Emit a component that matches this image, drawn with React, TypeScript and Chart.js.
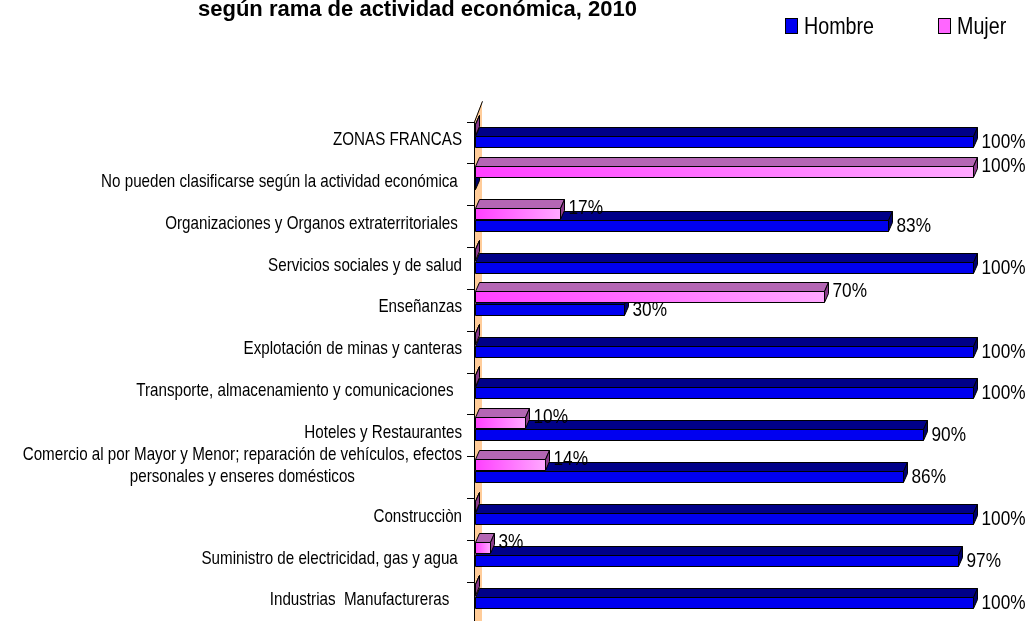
import React, { useEffect, useRef } from 'react';
import { Chart, registerables } from 'chart.js';

Chart.register(...registerables);

// ---------- data ----------
const categories: (string | string[])[] = [
  'ZONAS FRANCAS',
  'No pueden clasificarse según la actividad económica ',
  'Organizaciones y Organos extraterritoriales ',
  'Servicios sociales y de salud',
  'Enseñanzas',
  'Explotación de minas y canteras',
  'Transporte, almacenamiento y comunicaciones  ',
  'Hoteles y Restaurantes',
  ['Comercio al por Mayor y Menor; reparación de vehículos, efectos', 'personales y enseres domésticos'],
  'Construcciòn',
  'Suministro de electricidad, gas y agua ',
  'Industrias  Manufactureras   ',
];
const hombre = [100, 0, 83, 100, 30, 100, 100, 90, 86, 100, 97, 100];
const mujer = [0, 100, 17, 0, 70, 0, 0, 10, 14, 0, 3, 0];
const seriesNames = ['Hombre', 'Mujer'];
const titleText = 'según rama de actividad económica, 2010';

// ---------- style ----------
const FONT = "'Liberation Sans', Arial, sans-serif";
const SX = 0.82; // horizontal condensation (Arial Narrow look)
const W = 1036;
const H = 640;
const DX = 4; // 3D depth x
const DY = 9; // 3D depth y
const SHIFT = -7.4; // projection shift of bars inside a band

const COLORS = {
  hombre: { front: '#0000F0', top: '#000088', side: '#00006A' },
  mujer: { frontA: '#FF40FF', frontB: '#FFA8FF', top: '#B466B4', side: '#8A3A8A' },
};
const LABEL_DY = { hombre: 0, mujer: -6 };

function text(ctx: CanvasRenderingContext2D, s: string, x: number, y: number, align: CanvasTextAlign, sx = SX) {
  ctx.save();
  ctx.translate(x, y);
  ctx.scale(sx, 1);
  ctx.textAlign = align;
  ctx.fillText(s, 0, 0);
  ctx.restore();
}
function measure(ctx: CanvasRenderingContext2D, s: string) {
  return ctx.measureText(s).width * SX;
}

function drawBar3D(ctx: CanvasRenderingContext2D, x0: number, x1: number, yTop: number, h: number, kind: 'hombre' | 'mujer') {
  ctx.save();
  ctx.lineWidth = 1;
  ctx.strokeStyle = '#000';
  // top face
  ctx.beginPath();
  ctx.moveTo(x0, yTop);
  ctx.lineTo(x0 + DX, yTop - DY);
  ctx.lineTo(x1 + DX, yTop - DY);
  ctx.lineTo(x1, yTop);
  ctx.closePath();
  ctx.fillStyle = kind === 'hombre' ? COLORS.hombre.top : COLORS.mujer.top;
  ctx.fill();
  ctx.stroke();
  // side face (right end)
  ctx.beginPath();
  ctx.moveTo(x1, yTop);
  ctx.lineTo(x1 + DX, yTop - DY);
  ctx.lineTo(x1 + DX, yTop + h - DY);
  ctx.lineTo(x1, yTop + h);
  ctx.closePath();
  ctx.fillStyle = kind === 'hombre' ? COLORS.hombre.side : COLORS.mujer.side;
  ctx.fill();
  ctx.stroke();
  // front face
  if (kind === 'hombre') {
    ctx.fillStyle = COLORS.hombre.front;
  } else {
    const g = ctx.createLinearGradient(x0, 0, Math.max(x1, x0 + 1), 0);
    g.addColorStop(0, COLORS.mujer.frontA);
    g.addColorStop(1, COLORS.mujer.frontB);
    ctx.fillStyle = g;
  }
  ctx.beginPath();
  ctx.rect(x0, yTop, x1 - x0, h);
  ctx.fill();
  ctx.stroke();
  ctx.restore();
}

const plugin3D = {
  id: 'bars3d',
  beforeDatasetsDraw(chart: any) {
    const { ctx, chartArea } = chart;
    const xl = chartArea.left - 1;
    ctx.save();
    ctx.beginPath();
    ctx.moveTo(xl, chartArea.top);
    ctx.lineTo(xl + 2 * DX, chartArea.top - 2.3 * DY);
    ctx.lineTo(xl + 2 * DX, H);
    ctx.lineTo(xl, H);
    ctx.closePath();
    ctx.fillStyle = '#FFCC99';
    ctx.fill();
    ctx.beginPath();
    ctx.moveTo(xl + 0.5, H);
    ctx.lineTo(xl + 0.5, chartArea.top);
    ctx.lineTo(xl + 2 * DX + 0.5, chartArea.top - 2.3 * DY);
    ctx.strokeStyle = '#000';
    ctx.lineWidth = 1;
    ctx.stroke();
    ctx.restore();
  },
  afterDatasetsDraw(chart: any) {
    const { ctx } = chart;
    const kinds: ('mujer' | 'hombre')[] = ['mujer', 'hombre'];
    const order = [1, 0]; // Hombre drawn first, Mujer over it
    const labels: { x: number; y: number; t: string }[] = [];
    order.forEach((di) => {
      const meta = chart.getDatasetMeta(di);
      const values = chart.data.datasets[di].data as number[];
      meta.data.forEach((el: any, i: number) => {
        const p = el.getProps(['x', 'y', 'base', 'height'], true);
        const yTop = Math.round(p.y - p.height / 2 + SHIFT) + 0.5;
        const h = Math.round(p.height);
        const x0 = Math.round(p.base) + 0.5;
        const x1 = Math.round(p.x) + 0.5;
        drawBar3D(ctx, x0, x1, yTop, h, kinds[di]);
        if (values[i] > 0) {
          labels.push({ x: x1 + DX + 4, y: yTop + h / 2 + LABEL_DY[kinds[di]], t: values[i] + '%' });
        }
      });
    });
    ctx.save();
    ctx.font = `21px ${FONT}`;
    ctx.fillStyle = '#000';
    ctx.textBaseline = 'middle';
    labels.forEach((l) => text(ctx, l.t, l.x, l.y, 'left'));
    ctx.restore();
  },
  afterDraw(chart: any) {
    const { ctx, chartArea } = chart;
    const yScale = chart.scales.y;
    ctx.save();
    ctx.font = `18.5px ${FONT}`;
    ctx.fillStyle = '#000';
    ctx.textBaseline = 'middle';
    const xRight = chartArea.left - 13;
    categories.forEach((lab, i) => {
      const yc = yScale.getPixelForTick(i) - 3;
      if (Array.isArray(lab)) {
        const lh = 22;
        const n = lab.length;
        const widest = Math.max(...lab.map((s) => measure(ctx, s)));
        const blockC = yc - (n - 1) * lh * 0.4;
        lab.forEach((s, k) => {
          text(ctx, s, xRight - widest / 2, blockC + (k - (n - 1) / 2) * lh, 'center');
        });
      } else {
        text(ctx, lab, xRight, yc, 'right');
      }
    });
    // title (second line, partly cut at the top)
    ctx.font = `bold 22px ${FONT}`;
    ctx.textBaseline = 'alphabetic';
    text(ctx, titleText, 198, 15.5, 'left', 1);
    // legend
    const legend = [
      { name: seriesNames[0], box: 785, color: COLORS.hombre.front },
      { name: seriesNames[1], box: 938, color: '#FF66FF' },
    ];
    ctx.font = `24px ${FONT}`;
    legend.forEach((it) => {
      ctx.fillStyle = it.color;
      ctx.fillRect(it.box + 0.5, 18.5, 12, 15);
      ctx.strokeStyle = '#000';
      ctx.lineWidth = 1;
      ctx.strokeRect(it.box + 0.5, 18.5, 12, 15);
      ctx.fillStyle = '#000';
      text(ctx, it.name, it.box + 19, 33.5, 'left');
    });
    ctx.restore();
  },
};

export default function App() {
  const ref = useRef<HTMLCanvasElement>(null);
  useEffect(() => {
    const chart = new Chart(ref.current as HTMLCanvasElement, {
      type: 'bar',
      data: {
        labels: categories,
        datasets: [
          {
            label: seriesNames[1],
            data: mujer,
            backgroundColor: 'rgba(0,0,0,0)',
            borderWidth: 0,
            categoryPercentage: 0.59,
            barPercentage: 0.88,
          },
          {
            label: seriesNames[0],
            data: hombre,
            backgroundColor: 'rgba(0,0,0,0)',
            borderWidth: 0,
            categoryPercentage: 0.59,
            barPercentage: 0.88,
          },
        ],
      },
      options: {
        indexAxis: 'y',
        animation: false,
        responsive: false,
        maintainAspectRatio: false,
        layout: { padding: { top: 122, bottom: H - 629.6, left: 0, right: 63 } },
        plugins: {
          legend: { display: false },
          title: { display: false },
          tooltip: { enabled: false },
        },
        scales: {
          x: { display: false, min: 0, max: 100 },
          y: {
            offset: true,
            grid: { display: true, drawOnChartArea: false, drawTicks: true, tickLength: 8, color: '#000', offset: true },
            border: { display: false },
            ticks: { color: 'rgba(0,0,0,0)', font: { size: 18, family: FONT }, padding: 5, autoSkip: false },
            afterFit: (s: any) => {
              s.width = 475;
            },
          },
        },
      },
      plugins: [plugin3D],
    } as any);
    return () => chart.destroy();
  }, []);
  return (
    <div style={{ position: 'fixed', left: 0, top: 0, width: W, height: 621, overflow: 'hidden', background: '#fff' }}>
      <canvas ref={ref} width={W} height={H} style={{ display: 'block' }} />
    </div>
  );
}
